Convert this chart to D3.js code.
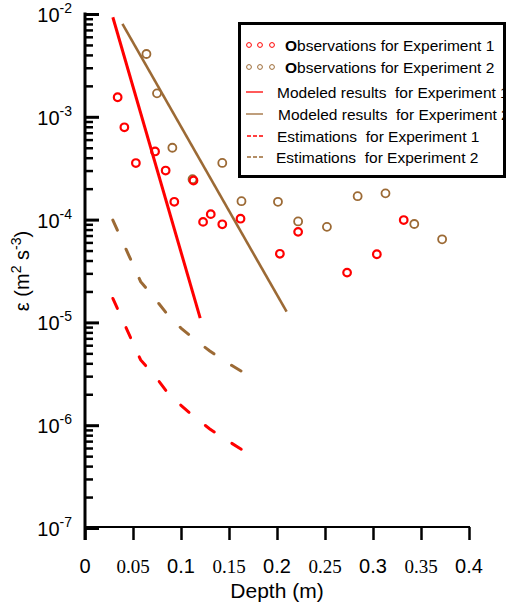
<!DOCTYPE html>
<html>
<head>
<meta charset="utf-8">
<script src="https://cdn.jsdelivr.net/npm/d3@7"></script>
<style>
  body { margin: 0; background: #fff; }
  text { font-family: "Liberation Sans", Arial, sans-serif; fill: #000; }
</style>
</head>
<body>
<div id="content"></div>
<script>
// observations (depth m, epsilon m2 s-3)
const obs1Depth = [0.034, 0.041, 0.053, 0.073, 0.084, 0.093, 0.113, 0.123, 0.131, 0.143, 0.162, 0.203, 0.222, 0.273, 0.304, 0.332];
const obs1Eps   = [1.55e-3, 7.9e-4, 3.55e-4, 4.6e-4, 3.0e-4, 1.49e-4, 2.4e-4, 9.5e-5, 1.13e-4, 9.0e-5, 1.02e-4, 4.65e-5, 7.6e-5, 3.05e-5, 4.6e-5, 9.9e-5];
const obs2Depth = [0.064, 0.075, 0.091, 0.112, 0.143, 0.163, 0.201, 0.222, 0.252, 0.284, 0.313, 0.343, 0.372];
const obs2Eps   = [4.08e-3, 1.69e-3, 5.0e-4, 2.47e-4, 3.56e-4, 1.51e-4, 1.49e-4, 9.6e-5, 8.5e-5, 1.69e-4, 1.80e-4, 9.06e-5, 6.43e-5];

// modeled results (straight lines on the log axis)
const mod1Depth = [0.029, 0.120];
const mod1Eps   = [9.3e-3, 1.1e-5];
const mod2Depth = [0.039, 0.210];
const mod2Eps   = [8.0e-3, 1.27e-5];

// estimations
const estDepth = [0.029, 0.058, 0.074, 0.086, 0.100, 0.115, 0.130, 0.146, 0.166];
const est1Eps  = [1.71e-5, 4.31e-6, 2.92e-6, 2.07e-6, 1.56e-6, 1.18e-6, 9.2e-7, 7.3e-7, 5.6e-7];
const est2Eps  = [9.9e-5, 2.49e-5, 1.65e-5, 1.19e-5, 8.8e-6, 6.75e-6, 5.27e-6, 4.17e-6, 3.22e-6];

const xTicks = [0, 0.05, 0.1, 0.15, 0.2, 0.25, 0.3, 0.35, 0.4];
const xTickLabels = ["0", "0.05", "0.1", "0.15", "0.2", "0.25", "0.3", "0.35", "0.4"];
const yDecades = [1e-7, 1e-6, 1e-5, 1e-4, 1e-3, 1e-2];
const yExponents = ["-7", "-6", "-5", "-4", "-3", "-2"];

const legendLabels = [
  "Observations for Experiment 1",
  "Observations for Experiment 2",
  "Modeled results  for Experiment 1",
  "Modeled results  for Experiment 2",
  "Estimations  for Experiment 1",
  "Estimations  for Experiment 2"
];

const RED = "#ff0000", BROWN = "#9c6a35";

const svg = d3.select("#content").append("svg")
    .attr("width", 518)
    .attr("height", 605);

const x = d3.scaleLinear().domain([0, 0.4]).range([85, 469]);
const y = d3.scaleLog().domain([1e-7, 1e-2]).range([528, 14]);

// --- x axis
const xAxis = svg.append("g")
    .attr("transform", "translate(0,527)")
    .call(d3.axisBottom(x).tickValues(xTicks).tickSize(13).tickFormat(""));
xAxis.select(".domain").remove();
xAxis.selectAll(".tick line").attr("stroke", "#000").attr("stroke-width", 2.5);
svg.append("line")
    .attr("x1", x(0)).attr("x2", x(0.4) + 1)
    .attr("y1", 527).attr("y2", 527)
    .attr("stroke", "#000").attr("stroke-width", 2);

svg.append("g").selectAll("text")
    .data(xTicks)
    .enter().append("text")
    .attr("x", d => x(d))
    .attr("y", 573)
    .attr("text-anchor", "middle")
    .style("font-family", (d, i) => i % 2 ? "'Liberation Serif', 'Times New Roman', serif" : null)
    .style("font-size", (d, i) => i % 2 ? "19px" : "20px")
    .text((d, i) => xTickLabels[i]);

svg.append("text")
    .attr("x", (x(0) + x(0.4)) / 2)
    .attr("y", 598)
    .attr("text-anchor", "middle")
    .style("font-size", "21px")
    .text("Depth (m)");

// --- y axis
svg.append("line")
    .attr("x1", 85).attr("x2", 85)
    .attr("y1", 12.5).attr("y2", 540)
    .attr("stroke", "#000").attr("stroke-width", 3);

const yAxis = svg.append("g")
    .attr("transform", "translate(85,0)")
    .call(d3.axisRight(y).tickValues(yDecades).tickSize(14).tickFormat(""));
yAxis.select(".domain").remove();
yAxis.selectAll(".tick line").attr("stroke", "#000").attr("stroke-width", 3);

const minorVals = [];
yDecades.slice(0, -1).forEach(dec => {
  for (let k = 2; k <= 9; k++) minorVals.push(dec * k);
});
const yMinor = svg.append("g")
    .attr("transform", "translate(85,0)")
    .call(d3.axisRight(y).tickValues(minorVals).tickSize(8).tickFormat(""));
yMinor.select(".domain").remove();
yMinor.selectAll(".tick line").attr("stroke", "#000").attr("stroke-width", 2.5);

const yLab = svg.append("g").selectAll("text")
    .data(yDecades)
    .enter().append("text")
    .attr("x", 72)
    .attr("y", d => y(d) + 8)
    .attr("text-anchor", "end")
    .style("font-size", "20px");
yLab.append("tspan").text("10");
yLab.append("tspan")
    .attr("dy", -9)
    .style("font-size", "14px")
    .text((d, i) => yExponents[i]);

const yTitle = svg.append("text")
    .attr("transform", "translate(29,271) rotate(-90)")
    .attr("text-anchor", "middle")
    .style("font-size", "20px");
yTitle.append("tspan").text("ε (m");
yTitle.append("tspan").attr("dy", -8).style("font-size", "14px").text("2");
yTitle.append("tspan").attr("dy", 8).text(" s");
yTitle.append("tspan").attr("dy", -8).style("font-size", "14px").text("-3");
yTitle.append("tspan").attr("dy", 8).text(")");

// --- series
const line = d3.line().x(d => x(d[0])).y(d => y(d[1]));
const zip = (a, b) => a.map((v, i) => [v, b[i]]);

svg.append("path")
    .datum(zip(mod1Depth, mod1Eps))
    .attr("d", line)
    .attr("fill", "none").attr("stroke", RED).attr("stroke-width", 3);
svg.append("path")
    .datum(zip(mod2Depth, mod2Eps))
    .attr("d", line)
    .attr("fill", "none").attr("stroke", BROWN).attr("stroke-width", 2.6);

[[est1Eps, RED], [est2Eps, BROWN]].forEach(([vals, c]) => {
  svg.append("path")
      .datum(zip(estDepth, vals))
      .attr("d", line)
      .attr("fill", "none").attr("stroke", c)
      .attr("stroke-width", 3)
      .attr("stroke-linecap", "round")
      .attr("stroke-dasharray", "11,21");
});

svg.append("g").selectAll("circle")
    .data(zip(obs2Depth, obs2Eps))
    .enter().append("circle")
    .attr("cx", d => x(d[0])).attr("cy", d => y(d[1]))
    .attr("r", 4)
    .attr("fill", "none").attr("stroke", BROWN).attr("stroke-width", 1.8);
svg.append("g").selectAll("circle")
    .data(zip(obs1Depth, obs1Eps))
    .enter().append("circle")
    .attr("cx", d => x(d[0])).attr("cy", d => y(d[1]))
    .attr("r", 3.8)
    .attr("fill", "none").attr("stroke", RED).attr("stroke-width", 2.2);

// --- legend
const leg = svg.append("g");
const rowY = [45, 67, 92, 114, 136, 157];
const rowColor = [RED, BROWN, RED, BROWN, RED, BROWN];
const rowX = [285, 285, 277, 278, 277, 276];

leg.selectAll("text")
    .data(legendLabels)
    .enter().append("text")
    .attr("x", (d, i) => rowX[i])
    .attr("y", (d, i) => rowY[i] + 5.5)
    .style("font-size", "15.5px")
    .style("white-space", "pre")
    .each(function (d) {
      const t = d3.select(this);
      if (d.startsWith("O")) {
        t.append("tspan").style("font-weight", "bold").text("O");
        t.append("tspan").text(d.slice(1));
      } else {
        t.text(d);
      }
    });

// legend box drawn over text so overflow gets covered at border
leg.append("rect")
    .attr("x", 505).attr("y", 20).attr("width", 13).attr("height", 160)
    .attr("fill", "#fff");
leg.append("rect")
    .attr("x", 239.5).attr("y", 23.5).attr("width", 265).attr("height", 153)
    .attr("fill", "none").attr("stroke", "#000").attr("stroke-width", 3);

[0, 1].forEach(i => {
  leg.selectAll(null)
      .data([249, 260, 272])
      .enter().append("circle")
      .attr("cx", d => d).attr("cy", rowY[i])
      .attr("r", 2.4)
      .attr("fill", "none").attr("stroke", rowColor[i]).attr("stroke-width", 1);
});
[2, 3].forEach(i => {
  leg.append("line")
      .attr("x1", 246).attr("x2", 263)
      .attr("y1", rowY[i]).attr("y2", rowY[i])
      .attr("stroke", rowColor[i]).attr("stroke-width", 1.3);
});
[4, 5].forEach(i => {
  leg.append("line")
      .attr("x1", 247).attr("x2", 263)
      .attr("y1", rowY[i]).attr("y2", rowY[i])
      .attr("stroke", rowColor[i]).attr("stroke-width", 1.5)
      .attr("stroke-dasharray", "4,2");
});
</script>
</body>
</html>
